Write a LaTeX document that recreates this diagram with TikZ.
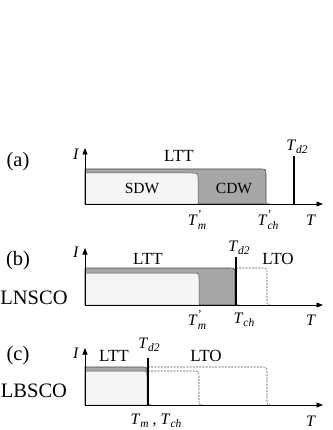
\documentclass[tikz,border=0pt]{standalone}
\usepackage{fontspec}
\setmainfont{Liberation Serif}
\usetikzlibrary{arrows.meta}
\definecolor{darkfill}{HTML}{A6A6A6}
\definecolor{lightfill}{HTML}{F5F5F5}
\definecolor{edge}{HTML}{4A4A4A}
\newcommand\Tsb[1]{\textit{T}\raisebox{-0.45ex}{\fontsize{11.5}{11.5}\selectfont\textit{#1}}}
\newcommand\Tpr[1]{\textit{T}\makebox[0pt][l]{\raisebox{1.0ex}{\fontsize{12}{12}\selectfont\textquoteright}}\raisebox{-0.5ex}{\fontsize{11.5}{11.5}\selectfont\textit{#1}}}
\tikzset{
  axisline/.style={draw=black, line width=0.8pt, -{Triangle[length=6.5pt,width=5pt]}},
  graybox/.style={fill=darkfill, draw=edge, line width=0.6pt},
  lightbox/.style={fill=lightfill, draw=edge, line width=0.5pt},
  dashbox/.style={draw=edge, line width=0.55pt, dash pattern=on 2pt off 1.2pt},
  tdline/.style={draw=black, line width=2.2pt},
  lbl/.style={font=\fontsize{17}{17}\selectfont, inner sep=0pt},
  phase/.style={font=\fontsize{15.5}{15.5}\selectfont, inner sep=0pt},
  panel/.style={font=\fontsize{20.5}{20.5}\selectfont, inner sep=0pt},
  tlbl/.style={font=\fontsize{16}{16}\selectfont, inner sep=0pt},
}
\begin{document}
\begin{tikzpicture}[x=1pt,y=-1pt]
\useasboundingbox[fill=white] (0,0) rectangle (332,430);

% ---------------- panel (a) ----------------
\filldraw[graybox] (85,204) -- (85,169) -- (260,169) .. controls (266,169) .. (266,175)
  -- (266,200) .. controls (266,204) .. (270,204) -- cycle;
\filldraw[lightbox] (85,204) -- (85,173) -- (191,173) .. controls (198,173) .. (198,179)
  -- (198,200) .. controls (198,204) .. (202,204) -- cycle;
\coordinate (a0) at (85,204);
\coordinate (aY) at (85,148);
\coordinate (aX) at (323,204);
\draw[axisline] (a0) -- (aY);
\draw[axisline] (a0) -- (aX);
\coordinate (aL1) at (294,156);
\coordinate (aL2) at (294,204);
\draw[tdline] (aL1) -- (aL2);
\node[panel] (pa) at (18,162) {(a)};
\node[tlbl] (aI) at (76,154) {\textit{I}};
\node[lbl] (aLTT) at (179,156) {LTT};
\node[tlbl] (aTd) at (297,147) {\Tsb{d2}};
\node[phase] (aSDW) at (142,188) {SDW};
\node[phase] (aCDW) at (234,188) {CDW};
\node[tlbl] (aTm) at (197,220) {\Tpr{m}};
\node[tlbl] (aTch) at (268,220) {\Tpr{ch}};
\node[tlbl] (aT) at (311,220) {\textit{T}};

% ---------------- panel (b) ----------------
\filldraw[graybox] (85,305) -- (85,268) -- (229,268) .. controls (235,268) .. (235,274)
  -- (235,301) .. controls (235,305) .. (239,305) -- cycle;
\filldraw[lightbox] (85,305) -- (85,273) -- (192,273) .. controls (199,273) .. (199,279)
  -- (199,301) .. controls (199,305) .. (203,305) -- cycle;
\coordinate (bD1) at (236,268);
\draw[dashbox] (bD1) -- (261,268) .. controls (267,268) .. (267,274)
  -- (267,301) .. controls (267,305) .. (271,305);
\coordinate (b0) at (85,305);
\coordinate (bY) at (85,248);
\coordinate (bX) at (323,305);
\draw[axisline] (b0) -- (bY);
\draw[axisline] (b0) -- (bX);
\coordinate (bL1) at (236,257);
\coordinate (bL2) at (236,305);
\draw[tdline] (bL1) -- (bL2);
\node[panel] (pb) at (18,261) {(b)};
\node[panel] (nb) at (34,298) {LNSCO};
\node[tlbl] (bI) at (76,252) {\textit{I}};
\node[lbl] (bLTT) at (148,259) {LTT};
\node[tlbl] (bTd) at (239,248) {\Tsb{d2}};
\node[lbl] (bLTO) at (278,259) {LTO};
\node[tlbl] (bTm) at (197,320) {\Tpr{m}};
\node[tlbl] (bTch) at (244,320) {\Tsb{ch}};
\node[tlbl] (bT) at (311,320) {\textit{T}};

% ---------------- panel (c) ----------------
\filldraw[graybox] (85,405) -- (85,367) -- (142,367) .. controls (147,367) .. (147,372)
  -- (147,401) .. controls (147,405) .. (151,405) -- cycle;
\filldraw[lightbox] (85,405) -- (85,371) -- (142,371) .. controls (147,371) .. (147,376)
  -- (147,401) .. controls (147,405) .. (151,405) -- cycle;
\coordinate (cD1) at (148,367);
\coordinate (cD2) at (148,371);
\draw[dashbox] (cD1) -- (261,367) .. controls (267,367) .. (267,373)
  -- (267,401) .. controls (267,405) .. (271,405);
\draw[dashbox] (cD2) -- (193,371) .. controls (199,371) .. (199,377)
  -- (199,401) .. controls (199,405) .. (203,405);
\coordinate (c0) at (85,405);
\coordinate (cY) at (85,348);
\coordinate (cX) at (323,405);
\draw[axisline] (c0) -- (cY);
\draw[axisline] (c0) -- (cX);
\coordinate (cL1) at (148,358);
\coordinate (cL2) at (148,405);
\draw[tdline] (cL1) -- (cL2);
\node[panel] (pc) at (18,356) {(c)};
\node[panel] (nc) at (34,391) {LBSCO};
\node[tlbl] (cI) at (76,353) {\textit{I}};
\node[lbl] (cLTT) at (114,356) {LTT};
\node[tlbl] (cTd) at (149,345) {\Tsb{d2}};
\node[lbl] (cLTO) at (206,356) {LTO};
\node[tlbl] (cTm) at (156,421) {\Tsb{m} , \Tsb{ch}};
\node[tlbl] (cT) at (311,421) {\textit{T}};
\end{tikzpicture}
\end{document}
